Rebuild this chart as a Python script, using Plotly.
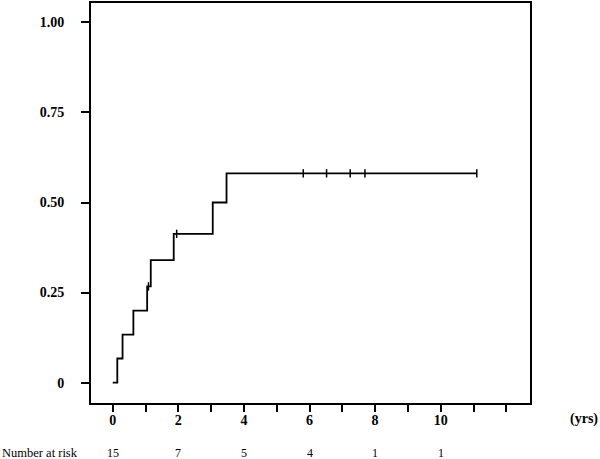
import plotly.graph_objects as go

# Cumulative incidence step curve (event times and values)
step_times = [0, 0.14, 0.30, 0.63, 1.05, 1.16, 1.86, 3.05, 3.47, 11.1]
step_values = [0, 0.067, 0.133, 0.200, 0.267, 0.340, 0.413, 0.500, 0.581, 0.581]

# Censored observations
censor_times = [1.09, 1.95, 5.81, 6.52, 7.24, 7.69, 11.1]
censor_values = [0.267, 0.413, 0.581, 0.581, 0.581, 0.581, 0.581]

# Axis ticks
x_ticks = list(range(0, 13))
x_tick_labels = ["0", "", "2", "", "4", "", "6", "", "8", "", "10", "", ""]
y_ticks = [0, 0.25, 0.50, 0.75, 1.00]
y_tick_labels = ["0", "0.25", "0.50", "0.75", "1.00"]

# Number at risk
risk_times = [0, 2, 4, 6, 8, 10]
risk_counts = [15, 7, 5, 4, 1, 1]

FONT = "Liberation Serif, Times New Roman, serif"

fig = go.Figure()
fig.add_trace(go.Scatter(
    x=step_times, y=step_values, mode="lines",
    line=dict(shape="hv", color="black", width=1.8),
    hoverinfo="skip",
))
fig.add_trace(go.Scatter(
    x=censor_times, y=censor_values, mode="markers",
    marker=dict(symbol="line-ns", size=6, line=dict(color="black", width=1.5)),
    hoverinfo="skip",
))

x_min, x_max = -0.662, 12.722
y_min, y_max = -0.0566, 1.0539

fig.update_layout(
    width=600, height=459,
    margin=dict(l=91, r=70, t=1, b=56),
    paper_bgcolor="white", plot_bgcolor="white",
    showlegend=False,
    font=dict(family=FONT, color="black"),
    xaxis=dict(
        range=[x_min, x_max], showgrid=False, zeroline=False,
        showline=True, linecolor="black", linewidth=2, mirror=True,
        ticks="outside", ticklen=7, tickwidth=2, tickcolor="black",
        tickvals=x_ticks, ticktext=x_tick_labels,
        tickfont=dict(family=FONT, size=14, color="black", weight="bold"),
        ticklabelstandoff=-4,
    ),
    yaxis=dict(
        range=[y_min, y_max], showgrid=False, zeroline=False,
        showline=True, linecolor="black", linewidth=2, mirror=True,
        ticks="outside", ticklen=8, tickwidth=2, tickcolor="black",
        tickvals=y_ticks, ticktext=y_tick_labels,
        tickfont=dict(family=FONT, size=14, color="black", weight="bold"),
        ticklabelstandoff=14,
    ),
)

fig.add_annotation(
    text="(yrs)", xref="paper", yref="paper",
    x=(600 - 91) / 439, y=(403 - 419) / 402,
    xanchor="right", yanchor="middle", showarrow=False,
    font=dict(family=FONT, size=14, color="black", weight="bold"),
)
fig.add_annotation(
    text="Number at risk", xref="paper", yref="paper",
    x=-91 / 439, y=(403 - 453) / 402,
    xanchor="left", yanchor="middle", showarrow=False,
    font=dict(family=FONT, size=12.5, color="black"),
)
for t, n in zip(risk_times, risk_counts):
    fig.add_annotation(
        text=str(n), x=t, xref="x", yref="paper",
        y=(403 - 453) / 402, xanchor="center", yanchor="middle",
        showarrow=False,
        font=dict(family=FONT, size=12, color="black"),
    )

fig.write_html("out.html")
